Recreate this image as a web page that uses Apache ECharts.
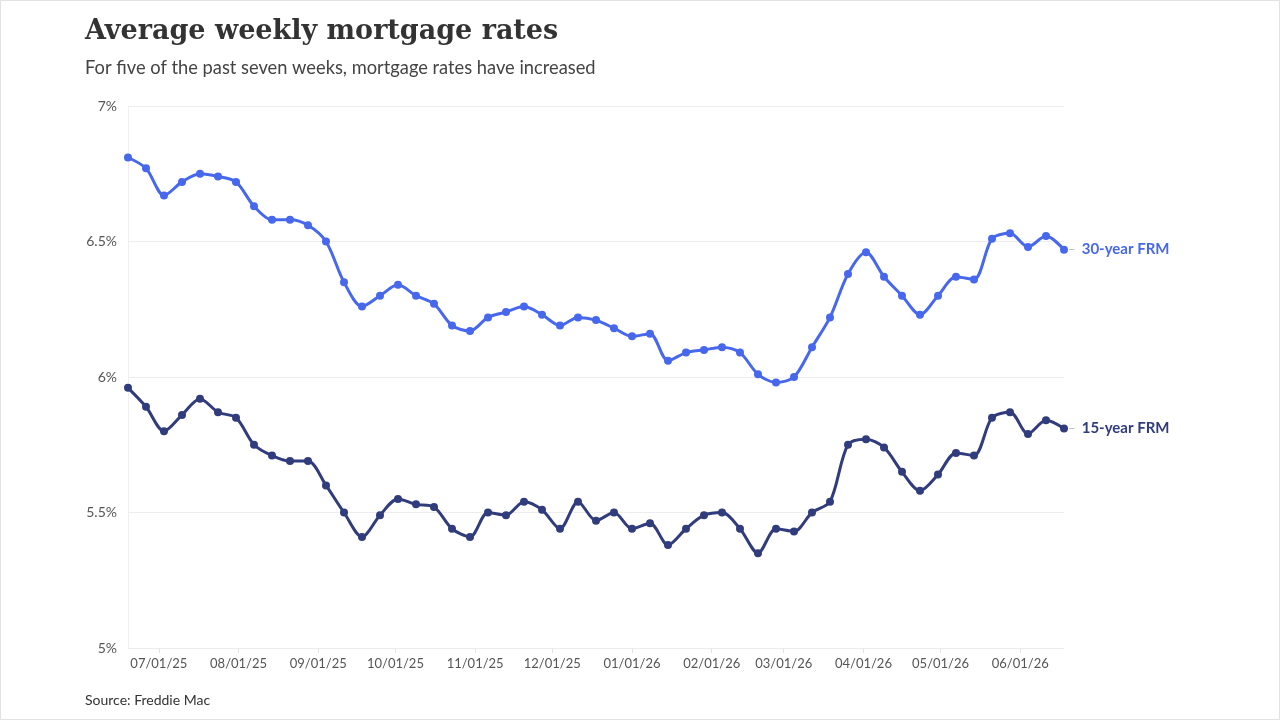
<!DOCTYPE html>
<html lang="en">
<head>
<meta charset="UTF-8">
<title>Average weekly mortgage rates</title>
<style type="text/css">
  html, body { margin: 0; padding: 0; background: #fff; }
  #chart {
    width: 1278px;
    height: 718px;
    border: 1px solid #e2e2e2;
  }
</style>
</head>
<body>
<div id="chart"></div>
<script src="https://cdn.jsdelivr.net/npm/echarts@6/dist/echarts.min.js"></script>
<script type="text/javascript">
// weekly dates (Thursday releases)
var weeks = [
  '2025-06-19', '2025-06-26', '2025-07-03', '2025-07-10', '2025-07-17', '2025-07-24', '2025-07-31',
  '2025-08-07', '2025-08-14', '2025-08-21', '2025-08-28', '2025-09-04', '2025-09-11', '2025-09-18',
  '2025-09-25', '2025-10-02', '2025-10-09', '2025-10-16', '2025-10-23', '2025-10-30', '2025-11-06',
  '2025-11-13', '2025-11-20', '2025-11-27', '2025-12-04', '2025-12-11', '2025-12-18', '2025-12-25',
  '2026-01-01', '2026-01-08', '2026-01-15', '2026-01-22', '2026-01-29', '2026-02-05', '2026-02-12',
  '2026-02-19', '2026-02-26', '2026-03-05', '2026-03-12', '2026-03-19', '2026-03-26', '2026-04-02',
  '2026-04-09', '2026-04-16', '2026-04-23', '2026-04-30', '2026-05-07', '2026-05-14', '2026-05-21',
  '2026-05-28', '2026-06-04', '2026-06-11', '2026-06-18'
];

// 30-year fixed
var rate30 = [
  6.81, 6.77, 6.67, 6.72, 6.75, 6.74, 6.72, 6.63, 6.58, 6.58, 6.56, 6.50, 6.35, 6.26,
  6.30, 6.34, 6.30, 6.27, 6.19, 6.17, 6.22, 6.24, 6.26, 6.23, 6.19, 6.22, 6.21, 6.18,
  6.15, 6.16, 6.06, 6.09, 6.10, 6.11, 6.09, 6.01, 5.98, 6.00, 6.11, 6.22, 6.38, 6.46,
  6.37, 6.30, 6.23, 6.30, 6.37, 6.36, 6.51, 6.53, 6.48, 6.52, 6.47
];

// 15-year fixed
var rate15 = [
  5.96, 5.89, 5.80, 5.86, 5.92, 5.87, 5.85, 5.75, 5.71, 5.69, 5.69, 5.60, 5.50, 5.41,
  5.49, 5.55, 5.53, 5.52, 5.44, 5.41, 5.50, 5.49, 5.54, 5.51, 5.44, 5.54, 5.47, 5.50,
  5.44, 5.46, 5.38, 5.44, 5.49, 5.50, 5.44, 5.35, 5.44, 5.43, 5.50, 5.54, 5.75, 5.77,
  5.74, 5.65, 5.58, 5.64, 5.72, 5.71, 5.85, 5.87, 5.79, 5.84, 5.81
];

var seriesNames = ['30-year FRM', '15-year FRM'];
var seriesColors = ['#4768ec', '#313c7c'];

function pairs(vals) {
  var out = [];
  for (var i = 0; i < vals.length; i++) {
    out.push([weeks[i], vals[i]]);
  }
  return out;
}

function makeSeries(name, color, vals) {
  return {
    name: name,
    type: 'line',
    data: pairs(vals),
    smooth: 0.3,
    symbol: 'circle',
    symbolSize: 8,
    showSymbol: true,
    lineStyle: { width: 3, color: color },
    itemStyle: { color: color },
    emphasis: { disabled: true },
    endLabel: {
      show: true,
      distance: 4,
      formatter: '{d|–}  {n|{a}}',
      rich: {
        d: { color: '#b8b8b8', fontSize: 13, fontFamily: 'Lato' },
        n: { color: color, fontSize: 15, fontWeight: 'bold', fontFamily: 'Lato' }
      }
    }
  };
}

var myChart = echarts.init(document.getElementById('chart'));

var option = {
  animation: false,
  textStyle: { fontFamily: 'Lato' },
  title: [
    {
      text: 'Average weekly mortgage rates',
      left: 84,
      top: 17,
      padding: 0,
      textStyle: { fontFamily: 'DejaVu Serif', fontWeight: 'bold', fontSize: 27, color: '#333' }
    },
    {
      text: 'For five of the past seven weeks, mortgage rates have increased',
      left: 84,
      top: 58,
      padding: 0,
      textStyle: { fontFamily: 'Lato', fontWeight: 'normal', fontSize: 18.3, color: '#444' }
    },
    {
      text: 'Source: Freddie Mac',
      left: 84,
      top: 692,
      padding: 0,
      textStyle: { fontFamily: 'Lato', fontWeight: 'normal', fontSize: 14, color: '#333' }
    }
  ],
  grid: { left: 127, right: 215, top: 105, bottom: 71 },
  xAxis: {
    type: 'time',
    min: weeks[0],
    max: weeks[weeks.length - 1],
    minInterval: 28 * 86400000,
    maxInterval: 31 * 86400000,
    axisLine: { show: true, lineStyle: { color: '#ececec' } },
    axisTick: { show: true, length: 5, lineStyle: { color: '#e4e4e4' } },
    splitLine: { show: false },
    axisLabel: {
      formatter: '{MM}/{dd}/{yy}',
      color: '#555',
      fontSize: 13,
      margin: 9,
      showMinLabel: false,
      showMaxLabel: false,
      fontFamily: 'Lato'
    }
  },
  yAxis: {
    type: 'value',
    min: 5,
    max: 7,
    interval: 0.5,
    axisLine: { show: true, lineStyle: { color: '#efefef' } },
    axisTick: { show: false },
    splitLine: { lineStyle: { color: '#ededed' } },
    axisLabel: {
      formatter: function (v) { return v + '%'; },
      color: '#555',
      fontSize: 14,
      margin: 11,
      fontFamily: 'Lato'
    }
  },
  series: [
    makeSeries(seriesNames[0], seriesColors[0], rate30),
    makeSeries(seriesNames[1], seriesColors[1], rate15)
  ]
};

myChart.setOption(option);
</script>
</body>
</html>
